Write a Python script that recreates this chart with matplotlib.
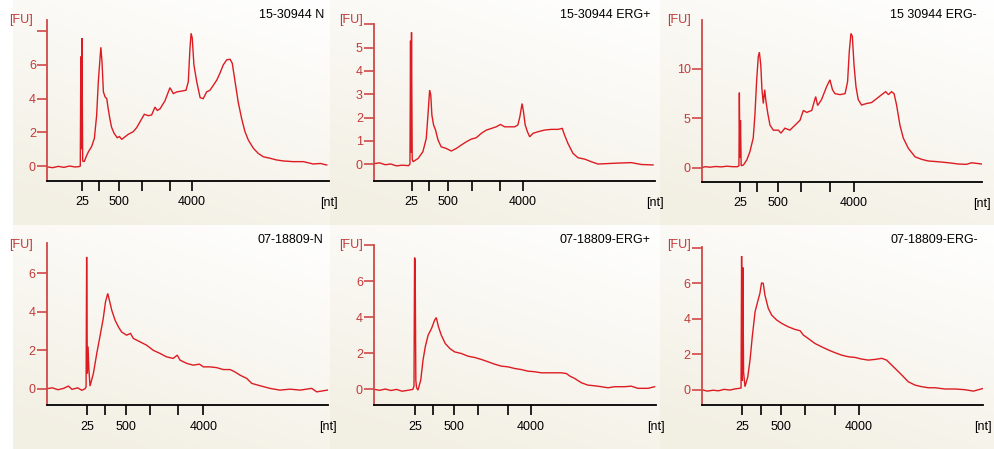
import matplotlib.pyplot as plt
import numpy as np

plt.rcParams["font.family"] = ["Liberation Sans Narrow", "Liberation Sans", "DejaVu Sans"]

# sample names printed in the corner of each electropherogram
sample_names = [
    "15-30944 N", "15-30944 ERG+", "15 30944 ERG-",
    "07-18809-N", "07-18809-ERG+", "07-18809-ERG-",
]

# ladder sizes on the x axis (only 25, 500 and 4000 are labelled)
ladder_labels = ["25", "", "500", "", "", "4000"]

# where the ladder ticks fall on each run (0-100 = run window)
ladder_pos_1 = [12.4, 18.4, 25.5, 33.7, 43.6, 51.4]
ladder_pos_2 = [13.4, 19.6, 26.3, 34.8, 44.8, 52.9]
ladder_pos_3 = [13.7, 19.75, 27.4, 35.5, 45.9, 54.3]
ladder_pos_4 = [14.4, 20.7, 28.1, 36.6, 46.8, 55.7]
ladder_pos_5 = [14.7, 20.9, 28.5, 37.0, 47.6, 55.7]
ladder_pos_6 = [14.3, 21.0, 28.1, 36.8, 47.5, 56.0]

# FU ticks per panel
fu_ticks_1 = [0, 2, 4, 6, 8]
fu_labels_1 = ["0", "2", "4", "6", ""]
fu_ticks_2 = [0, 1, 2, 3, 4, 5, 6]
fu_labels_2 = ["0", "1", "2", "3", "4", "5", ""]
fu_ticks_3 = [0, 5, 10]
fu_labels_3 = ["0", "5", "10"]
fu_ticks_4 = [0, 2, 4, 6]
fu_labels_4 = ["0", "2", "4", "6"]
fu_ticks_5 = [0, 2, 4, 6, 8]
fu_labels_5 = ["0", "2", "4", "6", ""]
fu_ticks_6 = [0, 2, 4, 6, 8]
fu_labels_6 = ["0", "2", "4", "6", ""]

fu_range_1 = (-0.89, 8.67)
fu_range_2 = (-0.73, 6.02)
fu_range_3 = (-1.42, 14.96)
fu_range_4 = (-0.86, 7.57)
fu_range_5 = (-0.88, 7.97)
fu_range_6 = (-0.88, 8.07)

# traces: (position, FU)
trace_1 = [
    (0, -0.05), (2, -0.1), (4, -0.02), (6, -0.08), (8, 0.0), (10, -0.06),
    (11.5, -0.03), (11.8, 0.0), (12.0, 6.5), (12.15, 1.0), (12.4, 7.6),
    (12.65, 0.3), (13.2, 0.26), (14.0, 0.6), (14.7, 0.85), (15.8, 1.15),
    (16.8, 1.64), (17.6, 3.0), (18.2, 5.0), (18.8, 6.4), (19.1, 7.05),
    (19.5, 6.2), (20.0, 4.4), (20.6, 4.1), (21.2, 4.0), (21.7, 3.4),
    (22.3, 2.8), (22.9, 2.3), (23.8, 1.94), (24.9, 1.68), (25.7, 1.75),
    (26.5, 1.58), (27.7, 1.74), (28.8, 1.88), (30.6, 2.04), (31.8, 2.28),
    (33.0, 2.63), (34.5, 3.07), (35.9, 2.99), (37.1, 3.03), (38.3, 3.5),
    (39.1, 3.3), (40.1, 3.4), (41.8, 3.86), (43.6, 4.65), (44.8, 4.3),
    (46.0, 4.4), (47.8, 4.45), (49.3, 4.5), (50.1, 5.0), (50.7, 7.0),
    (51.1, 7.88), (51.5, 7.6), (52.1, 6.0), (53.1, 5.0), (54.3, 4.06),
    (55.4, 4.0), (56.6, 4.4), (57.8, 4.5), (59.0, 4.8), (60.2, 5.1),
    (61.3, 5.5), (62.5, 6.0), (63.7, 6.3), (64.9, 6.34), (65.7, 6.1),
    (66.7, 5.0), (67.8, 3.8), (69.0, 2.83), (70.2, 2.04), (71.4, 1.54),
    (73.2, 1.05), (74.9, 0.75), (76.7, 0.55), (79.1, 0.46), (81.4, 0.36),
    (83.8, 0.3), (87.3, 0.26), (90.9, 0.26), (94.4, 0.12), (97.0, 0.15),
    (99.2, 0.06),
]
trace_2 = [
    (0.2, 0.02), (2, 0.05), (4, -0.03), (6, 0.0), (8, -0.08), (10, -0.05),
    (12.3, -0.07), (12.8, 0.0), (13.0, 5.3), (13.15, 0.5), (13.35, 5.66),
    (13.6, 0.2), (13.9, 0.1), (15.7, 0.24), (17.4, 0.53), (18.6, 1.1),
    (19.2, 2.1), (19.8, 3.18), (20.2, 2.97), (20.6, 2.1), (21.2, 1.68),
    (21.9, 1.46), (22.8, 1.03), (23.9, 0.74), (25.7, 0.67), (27.5, 0.56),
    (29.3, 0.67), (31.1, 0.82), (32.9, 0.96), (34.6, 1.07), (36.4, 1.13),
    (38.2, 1.32), (40.0, 1.46), (41.8, 1.53), (43.5, 1.6), (45.0, 1.7),
    (46.5, 1.6), (48.3, 1.6), (50.1, 1.6), (51.2, 1.68), (51.9, 2.03),
    (52.7, 2.6), (53.2, 2.25), (53.8, 1.68), (54.6, 1.39), (55.4, 1.17),
    (56.6, 1.32), (58.4, 1.39), (60.7, 1.46), (63.1, 1.49), (65.5, 1.49),
    (67.0, 1.53), (67.8, 1.25), (69.0, 0.89), (70.8, 0.46), (72.6, 0.27),
    (75.0, 0.21), (77.3, 0.1), (79.7, 0.0), (83.3, 0.02), (86.8, 0.04),
    (91.6, 0.06), (95.1, -0.02), (99.3, -0.04),
]
trace_3 = [
    (0, 0.0), (1.2, 0.1), (3, 0.05), (5, 0.12), (7, 0.08), (9, 0.15),
    (11, 0.1), (12.8, 0.1), (13.3, 0.2), (13.45, 7.6), (13.65, 1.0),
    (13.85, 4.8), (14.1, 0.2), (14.9, 0.27), (16.1, 0.78), (17.2, 1.6),
    (18.4, 3.0), (19.0, 5.3), (19.6, 8.7), (20.2, 11.25), (20.6, 11.7),
    (21.1, 10.4), (21.5, 8.0), (22.0, 6.5), (22.5, 7.9), (22.96, 6.7),
    (23.6, 5.5), (24.4, 4.3), (25.6, 3.8), (27.4, 3.8), (28.3, 3.5),
    (29.7, 4.0), (31.5, 3.8), (33.3, 4.3), (35.1, 4.8), (36.3, 5.8),
    (37.5, 5.6), (39.3, 5.8), (40.7, 7.2), (41.4, 6.3), (42.8, 6.9),
    (44.6, 8.2), (45.8, 8.9), (46.7, 7.9), (47.6, 7.5), (49.4, 7.4),
    (51.2, 7.5), (52.1, 8.7), (52.7, 11.75), (53.3, 13.6), (53.8, 13.3),
    (54.4, 10.4), (55.1, 8.2), (55.9, 6.9), (57.1, 6.35), (58.9, 6.5),
    (60.7, 6.6), (62.5, 7.0), (64.3, 7.4), (65.7, 7.7), (66.7, 7.4),
    (67.8, 7.7), (68.7, 7.5), (69.6, 6.35), (70.8, 4.3), (72.0, 3.0),
    (73.8, 1.96), (76.2, 1.1), (78.6, 0.84), (80.9, 0.68), (84.5, 0.6),
    (88.1, 0.5), (91.7, 0.37), (94.6, 0.34), (96.4, 0.5), (100, 0.37),
]
trace_4 = [
    (0, 0.0), (2, 0.05), (4, -0.05), (6, 0.02), (7.7, 0.14), (9, -0.03),
    (11, 0.05), (12.5, -0.08), (13.6, 0.0), (14.0, 0.1), (14.2, 6.86),
    (14.45, 0.8), (14.7, 2.2), (15.0, 1.0), (15.4, 0.14), (16.6, 0.8),
    (17.8, 1.84), (18.9, 2.7), (20.1, 3.66), (20.9, 4.52), (21.7, 4.96),
    (22.3, 4.6), (23.1, 4.1), (24.3, 3.57), (25.5, 3.22), (26.6, 2.96),
    (28.4, 2.79), (29.8, 2.88), (30.8, 2.62), (33.2, 2.44), (35.5, 2.27),
    (37.9, 2.0), (40.3, 1.84), (42.6, 1.66), (45.0, 1.58), (46.4, 1.75),
    (47.4, 1.49), (49.8, 1.32), (52.1, 1.23), (54.3, 1.28), (55.7, 1.14),
    (58.1, 1.14), (60.4, 1.1), (62.8, 1.0), (65.2, 1.0), (66.9, 0.88),
    (68.7, 0.71), (71.1, 0.54), (72.9, 0.28), (75.8, 0.16), (79.4, 0.02),
    (82.9, -0.07), (86.5, -0.02), (90.1, -0.07), (94.2, 0.02), (96.0, -0.16),
    (99.8, -0.07),
]
trace_5 = [
    (0.2, 0.0), (2, -0.05), (4, 0.02), (6, -0.06), (8, 0.0), (10, -0.1),
    (12, -0.05), (13.8, 0.0), (14.2, 0.2), (14.4, 7.3), (14.6, 7.2),
    (14.85, 0.5), (15.1, 0.1), (15.6, -0.04), (16.6, 0.52), (17.4, 1.62),
    (18.2, 2.36), (19.2, 3.0), (20.4, 3.37), (21.5, 3.83), (22.1, 3.98),
    (22.9, 3.46), (23.9, 3.0), (25.3, 2.54), (26.9, 2.27), (28.6, 2.08),
    (31.0, 1.99), (33.4, 1.84), (35.7, 1.77), (38.1, 1.66), (40.5, 1.53),
    (42.8, 1.4), (45.2, 1.29), (47.6, 1.25), (49.9, 1.16), (52.3, 1.1),
    (54.7, 1.01), (57.0, 0.98), (59.4, 0.92), (61.8, 0.92), (64.1, 0.92),
    (66.5, 0.92), (68.3, 0.88), (69.5, 0.74), (71.2, 0.61), (73.6, 0.37),
    (75.9, 0.24), (78.3, 0.2), (80.7, 0.15), (83.1, 0.09), (85.4, 0.15),
    (89.0, 0.15), (91.3, 0.18), (93.7, 0.06), (97.3, 0.06), (99.6, 0.15),
]
trace_6 = [
    (0, 0.0), (2, -0.08), (4, -0.03), (6, -0.06), (8, 0.02), (10, -0.02),
    (12, 0.05), (13.6, 0.08), (14.0, 0.1), (14.2, 7.54), (14.45, 0.5),
    (14.65, 6.9), (14.9, 1.0), (15.4, 0.17), (16.4, 0.73), (17.2, 1.67),
    (18.0, 3.0), (19.0, 4.4), (19.9, 4.96), (20.7, 5.43), (21.3, 6.03),
    (21.9, 6.0), (22.5, 5.34), (23.7, 4.59), (24.9, 4.21), (26.7, 3.93),
    (28.5, 3.74), (30.8, 3.55), (33.2, 3.4), (35.0, 3.33), (36.2, 3.08),
    (37.9, 2.89), (40.3, 2.61), (42.7, 2.42), (45.1, 2.24), (47.4, 2.09),
    (49.8, 1.95), (52.2, 1.86), (54.6, 1.82), (56.9, 1.73), (59.3, 1.67),
    (61.7, 1.71), (64.1, 1.77), (65.8, 1.67), (67.6, 1.39), (69.4, 1.11),
    (71.2, 0.83), (73.5, 0.45), (75.9, 0.26), (78.3, 0.17), (80.7, 0.11),
    (83.0, 0.11), (86.6, 0.04), (90.2, 0.04), (93.7, 0.0), (96.7, -0.08),
    (99.9, 0.06),
]

traces = [trace_1, trace_2, trace_3, trace_4, trace_5, trace_6]
ladder_positions = [ladder_pos_1, ladder_pos_2, ladder_pos_3,
                    ladder_pos_4, ladder_pos_5, ladder_pos_6]
fu_ticks = [fu_ticks_1, fu_ticks_2, fu_ticks_3, fu_ticks_4, fu_ticks_5, fu_ticks_6]
fu_labels = [fu_labels_1, fu_labels_2, fu_labels_3,
             fu_labels_4, fu_labels_5, fu_labels_6]
fu_ranges = [fu_range_1, fu_range_2, fu_range_3,
             fu_range_4, fu_range_5, fu_range_6]

# layout in pixels: (y axis x, x axis end, x axis y, y axis top)
W, H = 994, 449
panel_boxes = [
    (47, 329, 181, 20), (374, 655, 181, 24), (701.7, 981.7, 181.7, 20),
    (46.7, 328, 405.3, 243.3), (374, 655.7, 405.3, 245), (701.7, 982.7, 405.3, 246.7),
]
# backdrop cells (x0, x1, y0, y1)
backdrops = [
    (13, 330, 0, 225), (330, 660, 0, 225), (660, 994, 0, 225),
    (13, 330, 225, 449), (330, 660, 225, 449), (660, 994, 225, 449),
]

TRACE_RED = "#dc1c22"
AXIS_RED = "#d04848"
LABEL_RED = "#c23a3a"
BEIGE = np.array([0.952, 0.938, 0.892])


def add_backdrop(fig, x0, x1, y0, y1):
    ax = fig.add_axes([x0 / W, 1 - y1 / H, (x1 - x0) / W, (y1 - y0) / H], zorder=0)
    gx, gy = np.meshgrid(np.linspace(0, 1, 80), np.linspace(0, 1, 80))
    t = np.clip(0.35 * (1 - gx) + 0.75 * gy, 0, 1)[..., None]
    rgb = (1 - t) * np.ones(3) + t * BEIGE
    ax.imshow(rgb, aspect="auto", interpolation="bilinear")
    ax.axis("off")


def draw_panel(fig, i):
    left, right, base, top = panel_boxes[i]
    ax = fig.add_axes([left / W, 1 - base / H, (right - left) / W, (base - top) / H], zorder=2)
    ax.patch.set_alpha(0)

    xs, ys = zip(*traces[i])
    ax.plot(xs, ys, color=TRACE_RED, lw=1.0, solid_joinstyle="miter")

    ax.set_xlim(0, 100)
    ax.set_ylim(*fu_ranges[i])
    ax.set_xticks(ladder_positions[i])
    ax.set_xticklabels(ladder_labels, fontsize=9)
    ax.set_yticks(fu_ticks[i])
    ax.set_yticklabels(fu_labels[i], fontsize=9, color=LABEL_RED)

    for side in ("top", "right"):
        ax.spines[side].set_visible(False)
    ax.spines["left"].set_color(AXIS_RED)
    ax.spines["left"].set_linewidth(1.3)
    ax.spines["bottom"].set_color("black")
    ax.spines["bottom"].set_linewidth(1.3)
    ax.tick_params(axis="x", direction="out", length=7.5, width=1.2, pad=3.5)
    ax.tick_params(axis="y", direction="out", length=7, width=1.2, pad=1,
                   color=AXIS_RED)

    gap = 14 if left < 100 else 11
    row_top = 20 if i < 3 else 245.5
    fig.text((left - gap) / W, 1 - row_top / H, "[FU]", ha="right", va="center",
             fontsize=9, color=LABEL_RED)
    fig.text(right / W, 1 - (base + 22) / H, "[nt]", ha="center", va="center",
             fontsize=9)
    title_y = 15 if i < 3 else 240
    fig.text((right - 5) / W, 1 - title_y / H, sample_names[i], ha="right",
             va="center", fontsize=9)


def main():
    fig = plt.figure(figsize=(W / 100, H / 100), dpi=100)
    fig.patch.set_facecolor("white")
    for x0, x1, y0, y1 in backdrops:
        add_backdrop(fig, x0, x1, y0, y1)
    for i in range(len(traces)):
        draw_panel(fig, i)
    fig.savefig("out.png", dpi=100)
    plt.close(fig)


if __name__ == "__main__":
    main()
